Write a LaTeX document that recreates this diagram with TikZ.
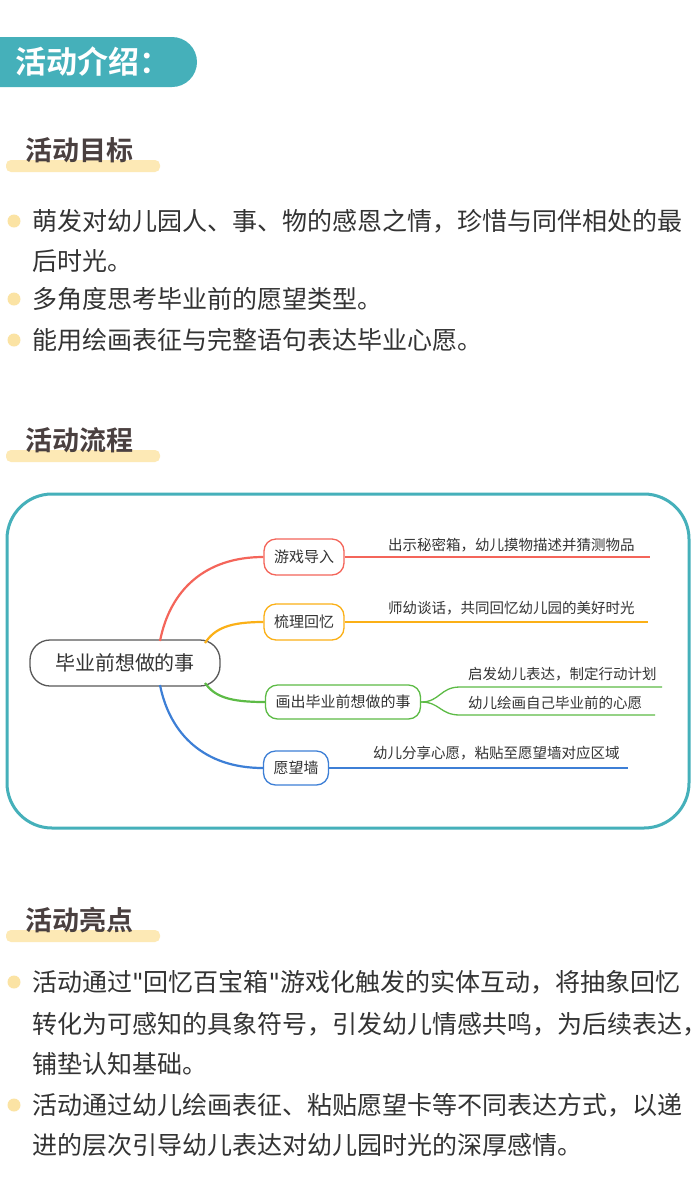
\documentclass[tikz,border=0pt]{standalone}
\usepackage{fontspec}
\setmainfont{Noto Sans CJK SC}[BoldFont={Noto Sans CJK SC Bold}]
\newfontfamily\qf{DejaVu Sans}
\definecolor{teal1}{HTML}{45B0BA}
\definecolor{hlbar}{HTML}{FDE9B5}
\definecolor{dotc}{HTML}{FBE3A4}
\definecolor{txt}{HTML}{333333}
\definecolor{head}{HTML}{4A4040}
\definecolor{cred}{HTML}{F4655A}
\definecolor{corg}{HTML}{FBB017}
\definecolor{cgrn}{HTML}{5DBB46}
\definecolor{cblu}{HTML}{3D7FD6}
\begin{document}
\begin{tikzpicture}[x=1pt,y=-1pt,
  heading/.style={anchor=west,font=\fontsize{27}{27}\selectfont\bfseries,text=head,inner sep=0},
  body/.style={anchor=west,font=\fontsize{25}{25}\selectfont,text=txt,inner sep=0},
  bdot/.style={fill=dotc,draw=none,circle,minimum size=13,inner sep=0},
  child/.style={draw=#1,line width=1.3,rounded corners=12,minimum height=36,inner xsep=10,font=\fontsize{15}{15}\selectfont,text=txt},
  leaf/.style={anchor=west,font=\fontsize{14.5}{15}\selectfont,text=txt,inner sep=0},
  br/.style={draw=#1,line width=2.2}]
\useasboundingbox (0,0) rectangle (700,1195);
\fill[white] (0,0) rectangle (700,1195);
% header
\fill[teal1,rounded corners=25] (-30,37) rectangle (197,87);
\node[anchor=west,text=white,font=\fontsize{31}{31}\selectfont\bfseries,inner sep=0] (title) at (15,62) {活动介绍：};
% headings
\fill[fill=hlbar,rounded corners=5] (6,160) rectangle (160,172);
\node[heading] (h1) at (25,150) {活动目标};
\fill[fill=hlbar,rounded corners=5] (6,450) rectangle (160,462);
\node[heading] (h2) at (25,440) {活动流程};
\fill[fill=hlbar,rounded corners=5] (6,930) rectangle (160,942);
\node[heading] (h3) at (25,920) {活动亮点};
% bullets 1
\node[bdot] (d1) at (14,221) {};
\node[body] (b1) at (32,221) {萌发对幼儿园人、事、物的感恩之情，珍惜与同伴相处的最};
\node[body] (b1b) at (32,261) {后时光。};
\node[bdot] (d2) at (14,299) {};
\node[body] (b2) at (32,299) {多角度思考毕业前的愿望类型。};
\node[bdot] (d3) at (14,340) {};
\node[body] (b3) at (32,340) {能用绘画表征与完整语句表达毕业心愿。};
% mind map frame
\draw[teal1,line width=3,rounded corners=45] (7,494) rectangle (689,828);
\node[draw=gray!70!black,line width=1.3,rounded corners=20,minimum width=190,minimum height=46,font=\fontsize{20}{20}\selectfont,text=txt] (root) at (125,663) {毕业前想做的事};
\node[child=cred] (c1) at (304,557) {游戏导入};
\node[child=corg] (c2) at (304,622) {梳理回忆};
\node[child=cgrn,minimum height=34] (c3) at (343,702) {画出毕业前想做的事};
\node[child=cblu,minimum height=34] (c4) at (296,768) {愿望墙};
\coordinate (r1) at (160,641);
\coordinate (r2) at (205,643);
\coordinate (r3) at (205,683);
\coordinate (r4) at (160,685);
\draw[br=cred] (r1) .. controls (170,590) and (205,557) .. (c1.west);
\draw[br=corg] (r2) .. controls (215,628) and (230,622) .. (c2.west);
\draw[br=cgrn] (r3) .. controls (215,697) and (230,702) .. (c3.west);
\draw[br=cblu] (r4) .. controls (170,735) and (205,768) .. (c4.west);
\coordinate (e1) at (650,557);
\coordinate (e2) at (648,622);
\coordinate (e3a) at (662,687);
\coordinate (e3b) at (655,715);
\coordinate (e4) at (628,768);
\draw[cred,line width=1.3] (c1.east) -- (e1);
\draw[corg,line width=1.3] (c2.east) -- (e2);
\draw[cblu,line width=1.3] (c4.east) -- (e4);
\draw[cgrn,line width=1.3] (c3.east) .. controls (440,702) and (440,687) .. (460,687) -- (e3a);
\draw[cgrn,line width=1.3] (c3.east) .. controls (440,702) and (440,715) .. (460,715) -- (e3b);
\node[leaf] (l1) at (388,545) {出示秘密箱，幼儿摸物描述并猜测物品};
\node[leaf] (l2) at (388,608) {师幼谈话，共同回忆幼儿园的美好时光};
\node[leaf] (l3a) at (468,674) {启发幼儿表达，制定行动计划};
\node[leaf] (l3b) at (468,703) {幼儿绘画自己毕业前的心愿};
\node[leaf] (l4) at (373,753) {幼儿分享心愿，粘贴至愿望墙对应区域};
% bullets 2
\node[bdot] (d4) at (14,982) {};
\node[body] (p1) at (32,982) {活动通过{\qf\char"0022}回忆百宝箱{\qf\char"0022}游戏化触发的实体互动，将抽象回忆};
\node[body] (p1b) at (32,1024) {转化为可感知的具象符号，引发幼儿情感共鸣，为后续表达，};
\node[body] (p1c) at (32,1064) {铺垫认知基础。};
\node[bdot] (d5) at (14,1105) {};
\node[body] (p2) at (32,1105) {活动通过幼儿绘画表征、粘贴愿望卡等不同表达方式，以递};
\node[body] (p2b) at (32,1145) {进的层次引导幼儿表达对幼儿园时光的深厚感情。};
\end{tikzpicture}
\end{document}
